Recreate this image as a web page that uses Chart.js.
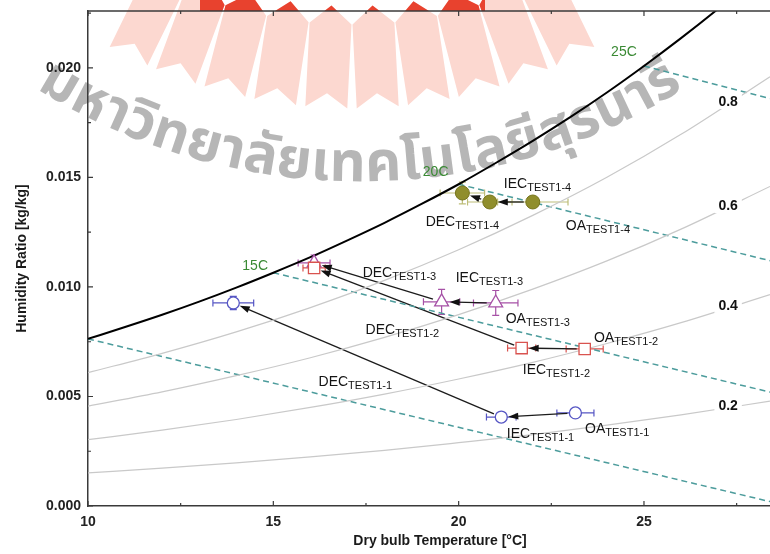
<!DOCTYPE html>
<html>
<head>
<meta charset="utf-8">
<script src="https://cdn.jsdelivr.net/npm/chart.js@4.4.1/dist/chart.umd.min.js"></script>
<style>
  html, body { margin: 0; padding: 0; background: #fff; }
  canvas { display: block; }
</style>
</head>
<body>
<canvas id="psy_chart" width="770" height="554"></canvas>
<script>
// saturation curve
var satTemp = [10, 11, 12, 13, 14, 15, 16, 17, 18, 19, 20, 21, 22, 23, 24, 25, 26, 27, 28];
var satW = [0.00763, 0.00817, 0.00873, 0.00933, 0.00997, 0.01065, 0.01136, 0.01213, 0.01293, 0.01379,
            0.01469, 0.01566, 0.01667, 0.01774, 0.01888, 0.02009, 0.02136, 0.02270, 0.02412];

// relative humidity curves
var rhTemp = [10, 12, 14, 16, 18, 20, 22, 24, 26, 28.4];
var rh20 = [0.00151, 0.00173, 0.00197, 0.00224, 0.00254, 0.00289, 0.00326, 0.00369, 0.00416, 0.00479];
var rh40 = [0.00303, 0.00346, 0.00395, 0.00450, 0.00511, 0.00580, 0.00656, 0.00742, 0.00837, 0.00965];
var rh60 = [0.00456, 0.00521, 0.00595, 0.00677, 0.00770, 0.00874, 0.00990, 0.01119, 0.01264, 0.01459];
var rh80 = [0.00609, 0.00697, 0.00795, 0.00906, 0.01030, 0.01170, 0.01327, 0.01501, 0.01697, 0.01960];

// wet bulb lines (start on saturation curve, end at right edge)
var wbTemp = [10, 15, 20, 25];
var wbStartW = [0.00763, 0.01065, 0.01469, 0.02009];
var wbEndTemp = 28.4;
var wbEndW = [0.0002, 0.0052, 0.0112, 0.0186];

// test points: OA, IEC, DEC
var test11T = [23.15, 21.15, 13.92];
var test11W = [0.00425, 0.00406, 0.00927];
var test11Ex = [0.5, 0.4, 0.55];
var test11Ey = [0, 0, 0.0003];

var test12T = [23.4, 21.7, 16.1];
var test12W = [0.00717, 0.00721, 0.01087];
var test12Ex = [0.5, 0.38, 0.3];
var test12Ey = [0, 0, 0.0002];

var test13T = [21.0, 19.54, 16.1];
var test13W = [0.00927, 0.00932, 0.0111];
var test13Ex = [0.6, 0.49, 0.43];
var test13Ey = [0.00057, 0.00057, 0.00036];

var test14T = [22.0, 20.84, 20.1];
var test14W = [0.01388, 0.01388, 0.01429];
var test14Ex = [0.95, 0.6, 0.6];
var test14Ey = [0, 0, 0.0005];

// axis ticks
var xTicks = [10, 15, 20, 25];
var xMinor = [12.5, 17.5, 22.5, 27.5];
var yTicks = [0, 0.005, 0.010, 0.015, 0.020];
var yMinor = [0.0025, 0.0075, 0.0125, 0.0175, 0.0225];

var rhNames = ["0.2", "0.4", "0.6", "0.8"];
var wbNames = ["15C", "20C", "25C"];

function pts(xs, ys) {
  return xs.map(function (x, i) { return { x: x, y: ys[i] }; });
}

var tests = [
  { T: test11T, W: test11W, ex: test11Ex, ey: test11Ey, color: "#5656c4", r: 6 },
  { T: test12T, W: test12W, ex: test12Ex, ey: test12Ey, color: "#d9534f", r: 6 },
  { T: test13T, W: test13W, ex: test13Ex, ey: test13Ey, color: "#a651a6", r: 7 },
  { T: test14T, W: test14W, ex: test14Ex, ey: test14Ey, color: "#bdbd78", r: 7 }
];

// label places (data units), text left edge / vertical middle
var pointLabels = [
  ["DEC", "TEST1-1", 16.22, 0.00571], ["IEC", "TEST1-1", 21.30, 0.00333], ["OA", "TEST1-1", 23.41, 0.00356],
  ["DEC", "TEST1-2", 17.49, 0.00808], ["IEC", "TEST1-2", 21.73, 0.00626], ["OA", "TEST1-2", 23.65, 0.00772],
  ["DEC", "TEST1-3", 17.41, 0.01068], ["IEC", "TEST1-3", 19.92, 0.01046], ["OA", "TEST1-3", 21.27, 0.00858],
  ["DEC", "TEST1-4", 19.11, 0.01301], ["IEC", "TEST1-4", 21.22, 0.01475], ["OA", "TEST1-4", 22.89, 0.01283]
];
var rhLabelPos = [[27.27, 0.00461], [27.27, 0.00918], [27.27, 0.01374], [27.27, 0.01849]];
var wbLabelPos = [[14.51, 0.01096], [19.38, 0.01525], [24.46, 0.02073]];

var datasets = [
  { data: pts(test11T, test11W), pointStyle: "circle", pointRadius: 6, borderColor: "#5656c4", backgroundColor: "#fff", borderWidth: 1.3 },
  { data: pts(test12T, test12W), pointStyle: "rect", pointRadius: 8, borderColor: "#d9534f", backgroundColor: "#fff", borderWidth: 1.3 },
  { data: pts(test13T, test13W), pointStyle: "triangle", pointRadius: 8, borderColor: "#a651a6", backgroundColor: "#fff", borderWidth: 1.3 },
  { data: pts(test14T, test14W), pointStyle: "circle", pointRadius: 7, borderColor: "#76741c", backgroundColor: "#908e2c", borderWidth: 1 },
  { data: pts(satTemp, satW), showLine: true, borderColor: "#000", borderWidth: 2, pointRadius: 0, cubicInterpolationMode: "monotone" }
];
[rh20, rh40, rh60, rh80].forEach(function (arr) {
  datasets.push({ data: pts(rhTemp, arr), showLine: true, borderColor: "#c9c9c9", borderWidth: 1.2, pointRadius: 0, cubicInterpolationMode: "monotone" });
});
wbTemp.forEach(function (t, i) {
  datasets.push({ data: [{ x: t, y: wbStartW[i] }, { x: wbEndTemp, y: wbEndW[i] }], showLine: true,
    borderColor: "#4c9c9c", borderWidth: 1.5, borderDash: [6, 4], pointRadius: 0 });
});

var thaiText = ["ม", "ห", "า", "วิ", "ท", "ย", "า", "ลั", "ย", "เ", "ท", "ค", "โ", "น", "โ", "ล", "ยี", "สุ", "ร", "น", "า", "รี"];

function feather(ctx, phi) {
  ctx.save();
  ctx.translate(352, -400);
  ctx.rotate(-phi * Math.PI / 180);
  var w = 21, r0 = 406, r1 = 508;
  ctx.beginPath();
  ctx.moveTo(0, r0);
  ctx.lineTo(w, r0 + 18);
  ctx.lineTo(w, r1);
  ctx.lineTo(0, r1 - 14);
  ctx.lineTo(-w, r1);
  ctx.lineTo(-w, r0 + 18);
  ctx.closePath();
  ctx.fill();
  ctx.restore();
}

function arrow(ctx, x1, y1, x2, y2, g1, g2) {
  var dx = x2 - x1, dy = y2 - y1, len = Math.sqrt(dx * dx + dy * dy);
  var ux = dx / len, uy = dy / len;
  var sx = x1 + ux * g1, sy = y1 + uy * g1;
  var ex = x2 - ux * g2, ey = y2 - uy * g2;
  ctx.beginPath();
  ctx.moveTo(sx, sy);
  ctx.lineTo(ex - ux * 6, ey - uy * 6);
  ctx.stroke();
  ctx.beginPath();
  ctx.moveTo(ex, ey);
  ctx.lineTo(ex - ux * 10 - uy * 3.5, ey - uy * 10 + ux * 3.5);
  ctx.lineTo(ex - ux * 10 + uy * 3.5, ey - uy * 10 - ux * 3.5);
  ctx.closePath();
  ctx.fill();
}

var decor = {
  id: "decor",
  beforeDraw: function (chart) {
    var ctx = chart.ctx, a = chart.chartArea;
    var angles = [-26.1, -20.3, -14.5, -8.7, -2.9, 2.9, 8.7, 14.5, 20.3, 26.1];
    // logo: pale everywhere, strong red above the frame in the middle
    ctx.save();
    ctx.beginPath();
    ctx.rect(a.left, 0, a.right - a.left, a.bottom);
    ctx.clip();
    ctx.fillStyle = "#fcd8d0";
    angles.forEach(function (p) { feather(ctx, p); });
    ctx.restore();
    ctx.save();
    ctx.beginPath();
    ctx.rect(200, 0, 285, a.top);
    ctx.clip();
    ctx.fillStyle = "#e8422e";
    angles.forEach(function (p) { feather(ctx, p); });
    ctx.restore();

    // curved watermark text
    ctx.save();
    ctx.font = 'bold 56px "Noto Sans Thai", "Noto Sans Thai Looped", Loma, Garuda, "Noto Sans", sans-serif';
    ctx.fillStyle = "rgba(110,110,110,0.5)";
    ctx.textAlign = "center";
    ctx.textBaseline = "middle";
    var cx = 360, cy = -430, R = 600;
    var widths = thaiText.map(function (c) { return ctx.measureText(c).width; });
    var total = widths.reduce(function (s, w) { return s + w; }, 0);
    var a0 = 122 * Math.PI / 180, a1 = 58 * Math.PI / 180;
    var gap = ((a0 - a1) * R - total) / (thaiText.length - 1);
    var th = a0;
    thaiText.forEach(function (c, i) {
      th -= widths[i] / 2 / R;
      ctx.save();
      ctx.translate(cx + R * Math.cos(th), cy + R * Math.sin(th));
      ctx.rotate(th - Math.PI / 2);
      ctx.fillText(c, 0, 0);
      ctx.restore();
      th -= (widths[i] / 2 + gap) / R;
    });
    ctx.restore();
  },
  beforeDatasetsDraw: function (chart) {
    var ctx = chart.ctx, xs = chart.scales.x, ys = chart.scales.y;
    ctx.save();
    // error bars
    tests.forEach(function (t) {
      ctx.strokeStyle = t.color;
      ctx.lineWidth = 1.2;
      t.T.forEach(function (T, i) {
        var px = xs.getPixelForValue(T), py = ys.getPixelForValue(t.W[i]);
        var xl = xs.getPixelForValue(T - t.ex[i]), xr = xs.getPixelForValue(T + t.ex[i]);
        ctx.beginPath();
        ctx.moveTo(xl, py); ctx.lineTo(xr, py);
        ctx.moveTo(xl, py - 3.5); ctx.lineTo(xl, py + 3.5);
        ctx.moveTo(xr, py - 3.5); ctx.lineTo(xr, py + 3.5);
        if (t.ey[i] > 0) {
          var yt = ys.getPixelForValue(t.W[i] + t.ey[i]), yb = ys.getPixelForValue(t.W[i] - t.ey[i]);
          ctx.moveTo(px, yt); ctx.lineTo(px, yb);
          ctx.moveTo(px - 3.5, yt); ctx.lineTo(px + 3.5, yt);
          ctx.moveTo(px - 3.5, yb); ctx.lineTo(px + 3.5, yb);
        }
        ctx.stroke();
      });
    });
    // process arrows OA -> IEC -> DEC
    ctx.strokeStyle = "#1c1c1c";
    ctx.fillStyle = "#111";
    ctx.lineWidth = 1.3;
    tests.forEach(function (t) {
      for (var i = 0; i < 2; i++) {
        arrow(ctx, xs.getPixelForValue(t.T[i]), ys.getPixelForValue(t.W[i]),
          xs.getPixelForValue(t.T[i + 1]), ys.getPixelForValue(t.W[i + 1]), t.r + 2, t.r + 1);
      }
    });
    ctx.restore();
  },
  afterDatasetsDraw: function (chart) {
    var ctx = chart.ctx, a = chart.chartArea, xs = chart.scales.x, ys = chart.scales.y;
    ctx.save();
    // frame top line and inward ticks
    ctx.strokeStyle = "#3a3a3a";
    ctx.lineWidth = 1.5;
    ctx.beginPath();
    ctx.moveTo(a.left, a.top); ctx.lineTo(a.right, a.top);
    ctx.stroke();
    ctx.lineWidth = 1.2;
    ctx.beginPath();
    xTicks.concat(xMinor).forEach(function (v, i) {
      var p = xs.getPixelForValue(v), l = i < xTicks.length ? 5 : 3;
      ctx.moveTo(p, a.bottom); ctx.lineTo(p, a.bottom - l);
      ctx.moveTo(p, a.top); ctx.lineTo(p, a.top + l);
    });
    yTicks.concat(yMinor).forEach(function (v, i) {
      var p = ys.getPixelForValue(v), l = i < yTicks.length ? 5 : 3;
      ctx.moveTo(a.left, p); ctx.lineTo(a.left + l, p);
    });
    ctx.stroke();

    // x axis title
    ctx.font = 'bold 14px "Liberation Sans", Arial, sans-serif';
    ctx.fillStyle = "#1a1a1a";
    ctx.textAlign = "center";
    ctx.textBaseline = "middle";
    ctx.fillText("Dry bulb Temperature [°C]", 440, 541);

    ctx.beginPath();
    ctx.rect(a.left, a.top, a.right - a.left, a.bottom - a.top);
    ctx.clip();

    // RH labels with white boxes
    rhNames.forEach(function (n, i) {
      var px = xs.getPixelForValue(rhLabelPos[i][0]), py = ys.getPixelForValue(rhLabelPos[i][1]);
      var w = ctx.measureText(n).width;
      ctx.fillStyle = "#fff";
      ctx.fillRect(px - w / 2 - 4, py - 8, w + 8, 16);
      ctx.fillStyle = "#111";
      ctx.fillText(n, px, py + 1);
    });

    // wet bulb labels
    ctx.font = '14px "Liberation Sans", Arial, sans-serif';
    ctx.fillStyle = "#3a8a34";
    wbNames.forEach(function (n, i) {
      ctx.fillText(n, xs.getPixelForValue(wbLabelPos[i][0]), ys.getPixelForValue(wbLabelPos[i][1]));
    });

    // point labels with subscripts
    ctx.textAlign = "left";
    ctx.textBaseline = "alphabetic";
    ctx.fillStyle = "#141414";
    pointLabels.forEach(function (l) {
      var px = xs.getPixelForValue(l[2]), py = ys.getPixelForValue(l[3]) + 5;
      ctx.font = '14px "Liberation Sans", Arial, sans-serif';
      ctx.fillText(l[0], px, py);
      var w = ctx.measureText(l[0]).width;
      ctx.font = '11px "Liberation Sans", Arial, sans-serif';
      ctx.fillText(l[1], px + w, py + 3);
    });
    ctx.restore();
  }
};

var tickFont = { family: '"Liberation Sans", Arial, sans-serif', size: 14, weight: "bold" };

new Chart(document.getElementById("psy_chart"), {
  type: "scatter",
  data: { datasets: datasets },
  options: {
    responsive: false,
    animation: false,
    devicePixelRatio: 1,
    layout: { autoPadding: false, padding: { top: 11, right: 0, left: 0, bottom: 0 } },
    plugins: { legend: { display: false }, tooltip: { enabled: false } },
    scales: {
      x: {
        type: "linear", min: 10, max: 28.4,
        afterBuildTicks: function (s) { s.ticks = xTicks.map(function (v) { return { value: v }; }); },
        afterFit: function (s) { s.height = 48; s.paddingLeft = 0; s.paddingRight = 0; },
        grid: { display: false, drawTicks: false },
        border: { display: true, color: "#3a3a3a", width: 1.5 },
        ticks: { font: tickFont, color: "#222", padding: 8, autoSkip: false, maxRotation: 0 }
      },
      y: {
        type: "linear", min: 0, max: 0.0226,
        afterBuildTicks: function (s) { s.ticks = yTicks.map(function (v) { return { value: v }; }); },
        afterFit: function (s) { s.width = 88; s.paddingTop = 0; s.paddingBottom = 0; },
        grid: { display: false, drawTicks: false },
        border: { display: true, color: "#3a3a3a", width: 1.5 },
        ticks: { font: tickFont, color: "#222", padding: 7, autoSkip: false, callback: function (v) { return v.toFixed(3); } },
        title: { display: true, text: "Humidity Ratio [kg/kg]", color: "#1a1a1a", font: tickFont, padding: { top: 14, bottom: 0 } }
      }
    }
  },
  plugins: [decor]
});
</script>
</body>
</html>
